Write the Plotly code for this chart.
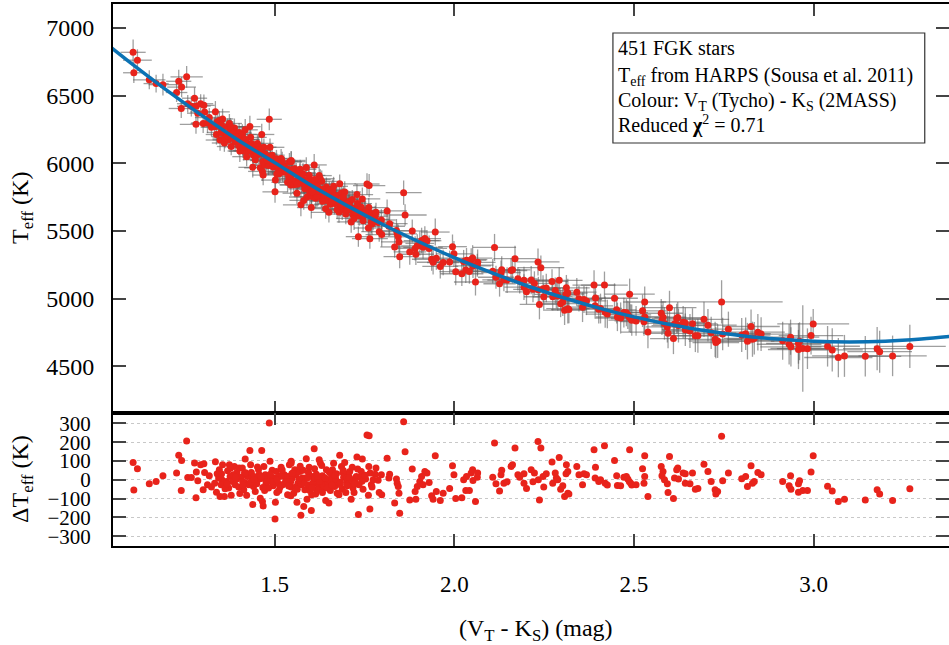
import plotly.graph_objects as go

# V_T - K_S colour (mag), Teff (K), residual Teff - fit (K)
vk = [
    1.106, 1.118, 1.108, 1.151, 1.170, 1.189, 1.227, 1.233, 1.241, 1.255,
    1.240, 1.258, 1.268, 1.277, 1.281, 1.286, 1.282, 1.294, 1.303, 1.305,
    1.301, 1.313, 1.324, 1.335, 1.333, 1.338, 1.340, 1.346, 1.348, 1.355,
    1.360, 1.363, 1.353, 1.369, 1.374, 1.376, 1.379, 1.383, 1.388, 1.390,
    1.395, 1.401, 1.406, 1.410, 1.414, 1.418, 1.420, 1.422, 1.424, 1.431,
    1.433, 1.437, 1.439, 1.441, 1.446, 1.453, 1.457, 1.460, 1.464, 1.466,
    1.468, 1.470, 1.472, 1.476, 1.481, 1.485, 1.487, 1.490, 1.493, 1.496,
    1.500, 1.502, 1.501, 1.505, 1.506, 1.509, 1.513, 1.518, 1.522, 1.527,
    1.531, 1.536, 1.541, 1.546, 1.545, 1.546,
    1.344, 1.351, 1.366, 1.372, 1.385, 1.394, 1.400, 1.411, 1.416, 1.428,
    1.435, 1.442, 1.450, 1.455, 1.463, 1.474, 1.478, 1.483, 1.489, 1.494,
    1.507, 1.515, 1.520, 1.528, 1.537,
    1.546, 1.556, 1.549, 1.553, 1.560, 1.565, 1.562, 1.570, 1.573, 1.577,
    1.581, 1.584, 1.588, 1.590, 1.593, 1.596, 1.599, 1.602, 1.603, 1.609,
    1.610, 1.614, 1.616, 1.621, 1.624, 1.627, 1.631, 1.630, 1.635, 1.638,
    1.642, 1.644, 1.649, 1.651, 1.655, 1.658, 1.662, 1.667, 1.672, 1.676,
    1.679, 1.681, 1.686, 1.688, 1.692, 1.695, 1.698, 1.701, 1.705, 1.709,
    1.713, 1.716, 1.718, 1.721, 1.727, 1.729, 1.733, 1.739, 1.744, 1.746,
    1.753, 1.757, 1.763, 1.762, 1.761, 1.765, 1.766, 1.769, 1.780, 1.791,
    1.798, 1.797, 1.813, 1.818, 1.820, 1.834, 1.839, 1.841, 1.844, 1.846,
    1.848, 1.859, 1.863, 1.876, 1.883, 1.891, 1.893, 1.897, 1.904, 1.909,
    1.913, 1.918, 1.924, 1.930, 1.937, 1.941, 1.947, 1.950, 1.961, 1.969,
    1.987, 1.995, 1.999, 2.004, 2.021, 2.026, 2.032, 2.034,
    1.545, 1.551, 1.559, 1.568, 1.574, 1.579, 1.586, 1.594, 1.598, 1.605,
    1.612, 1.618, 1.625, 1.633, 1.640, 1.646, 1.653, 1.661, 1.670, 1.674,
    1.683, 1.690, 1.700, 1.707, 1.714, 1.724, 1.735, 1.741, 1.750, 1.774,
    2.042, 2.047, 2.051, 2.052, 2.059, 2.064, 2.065, 2.107, 2.112, 2.116,
    2.126, 2.130, 2.132, 2.138, 2.147, 2.158, 2.162, 2.169, 2.177, 2.182,
    2.194, 2.194, 2.201, 2.214, 2.219, 2.223, 2.233, 2.234, 2.237, 2.241,
    2.247, 2.249, 2.256, 2.272, 2.274, 2.281, 2.284, 2.288, 2.292, 2.296,
    2.302, 2.307, 2.311, 2.312, 2.316, 2.316, 2.319, 2.341, 2.347, 2.357,
    2.361, 2.368, 2.389, 2.393, 2.392, 2.402, 2.407, 2.418, 2.420, 2.426,
    2.446, 2.452, 2.454, 2.463, 2.472, 2.479, 2.483, 2.488, 2.487, 2.491,
    2.494, 2.506, 2.524, 2.528, 2.530, 2.530, 2.539, 2.576, 2.581, 2.578,
    2.585, 2.593, 2.595, 2.599, 2.610, 2.613, 2.619, 2.622, 2.624, 2.637,
    2.643, 2.643, 2.656, 2.663, 2.671, 2.678, 2.695, 2.706,
    2.715, 2.726, 2.728, 2.733, 2.744, 2.747, 2.763, 2.800, 2.811, 2.816,
    2.826, 2.830, 2.835, 2.845, 2.854, 2.914, 2.932, 2.936, 2.937, 2.958,
    2.961, 2.958, 2.970, 2.983, 2.993, 2.999, 3.039, 3.052, 3.069, 3.086,
    3.144, 3.177, 3.184, 3.220, 3.268,
    1.318, 1.362, 1.377, 1.403, 1.419, 1.434, 1.452, 1.467, 1.488, 1.512,
    1.521, 1.533, 1.548, 1.563, 1.571, 1.583, 1.592, 1.604, 1.611, 1.619,
    1.633, 1.641, 1.652, 1.659, 1.668, 1.683, 1.691, 1.702, 1.708, 1.722,
    1.731, 1.743, 1.752, 1.771, 1.782, 1.788, 1.352, 1.368, 1.391, 1.412,
    1.443, 1.462, 1.479, 1.539, 1.664,
]

teff = [
    6820, 6762, 6669, 6617, 6589, 6581, 6523, 6606, 6563, 6639,
    6405, 6440, 6421, 6481, 6288, 6370, 6423, 6440, 6428, 6379,
    6294, 6298, 6266, 6380, 6270, 6213, 6307, 6317, 6172, 6328,
    6150, 6198, 6252, 6271, 6294, 6229, 6124, 6190, 6261, 6159,
    6216, 6228, 6172, 6213, 6091, 6247, 6116, 6049, 6145, 6271,
    6192, 6114, 5970, 6062, 6027, 6077, 6097, 5967, 6213, 5940,
    5913, 6119, 5988, 6020, 6048, 6325, 6118, 6006, 6060, 5973,
    6007, 5876, 5789, 6034, 5921, 5966, 5995, 6036, 5936, 5981,
    5948, 5860, 6011, 6021, 5840, 5884,
    6277, 6228, 6219, 6174, 6222, 6183, 6129, 6140, 6177, 6093,
    6147, 6114, 6061, 6126, 6067, 6068, 6035, 5983, 6035, 5999,
    5987, 5935, 5987, 5935, 5956,
    6012, 5960, 5927, 5841, 5928, 5875, 5779, 5929, 5693, 5884,
    5726, 5811, 5969, 5751, 5823, 5911, 5861, 5673, 5754, 5825,
    5988, 5742, 5844, 5779, 5909, 5886, 5867, 5749, 5785, 5749,
    5665, 5825, 5747, 5638, 5698, 5778, 5736, 5702, 5762, 5710,
    5640, 5848, 5780, 5656, 5715, 5788, 5625, 5679, 5714, 5720,
    5567, 5733, 5620, 5593, 5669, 5769, 5458, 5648, 5737, 5575,
    5619, 5847, 5835, 5673, 5522, 5443, 5633, 5566, 5607, 5495,
    5473, 5581, 5648, 5535, 5554, 5382, 5503, 5479, 5457, 5419,
    5310, 5783, 5618, 5345, 5500, 5371, 5328, 5390, 5408, 5429,
    5379, 5444, 5428, 5371, 5291, 5269, 5492, 5299, 5238, 5267,
    5270, 5384, 5331, 5199, 5184, 5275, 5211, 5284,
    5916, 5951, 5864, 5888, 5852, 5921, 5869, 5887, 5785, 5810,
    5829, 5758, 5791, 5809, 5787, 5725, 5758, 5799, 5737, 5656,
    5687, 5743, 5698, 5661, 5669, 5646, 5613, 5675, 5637, 5585,
    5200, 5288, 5300, 5242, 5123, 5247, 5268, 5202, 5378, 5158,
    5110, 5192, 5213, 5139, 5137, 5208, 5213, 5295, 5146, 5128,
    5135, 5085, 5050, 5137, 5069, 5112, 5271, 5066, 4957, 5229,
    5073, 5014, 5079, 5127, 5013, 5061, 5032, 5020, 5135, 4963,
    4976, 4915, 5033, 5080, 5041, 4926, 4919, 5048, 4999, 4937,
    4993, 4983, 5100, 5004, 4947, 4922, 4927, 5100, 4900, 4886,
    5003, 4917, 4865, 4857, 4897, 4896, 4880, 5033, 4864, 4853,
    4841, 4835, 4910, 4830, 4975, 4865, 4753, 4892, 4863, 4841,
    4817, 4791, 4744, 4933, 4705, 4812, 4853, 4860, 4801, 4826,
    4820, 4770, 4761, 4814, 4725, 4726, 4847, 4804,
    4747, 4699, 4675, 4687, 4976, 4739, 4774, 4731, 4741, 4686,
    4794, 4700, 4707, 4752, 4738, 4689, 4663, 4715, 4644, 4669,
    4685, 4624, 4632, 4630, 4727, 4813, 4648, 4621, 4565, 4577,
    4574, 4630, 4608, 4577, 4647,
    6338, 6187, 6270, 6090, 6174, 6098, 6147, 6012, 6047, 5922,
    6016, 5936, 5953, 5845, 5956, 5847, 5862, 5790, 5880, 5829,
    5720, 5784, 5801, 5720, 5759, 5701, 5751, 5654, 5690, 5636,
    5702, 5621, 5640, 5551, 5638, 5563, 6284, 6204, 6198, 6119,
    6096, 6078, 6022, 5902, 5830,
]

dteff = [
    92, 59, -55, -21, -9, 21, 36, 131, 103, 206,
    -57, 12, 12, 89, -96, -5, 41, 80, 85, 39,
    -53, -27, -39, 96, -18, -66, 32, 53, -89, 80,
    -89, -36, 0, 48, 80, 18, -82, -9, 71, -27,
    39, 62, 14, 62, -53, 110, -18, -82, 18, 156,
    80, 9, -131, -36, -62, 0, 27, -98, 155, -115,
    -139, 71, -57, -18, 18, 302, 98, -9, 50, -32,
    9, -119, -208, 44, -67, -18, 18, 67, -27, 27,
    0, -80, 80, 98, -85, -39,
    9, -27, -9, -44, 27, 4, -39, -9, 36, -27,
    39, 18, -21, 53, 7, 27, 0, -44, 18, -9,
    0, -39, 21, -18, 18,
    89, 53, 9, -71, 27, -18, -119, 44, -188, 9,
    -142, -53, 112, -103, -27, 66, 21, -163, -80, 0,
    165, -75, 30, -27, 107, 89, 76, -44, 0, -32,
    -110, 53, -18, -124, -57, 27, -9, -36, 32, -14,
    -80, 131, 71, -50, 14, 92, -67, -9, 32, 44,
    -103, 67, -44, -67, 18, 121, -185, 14, 110, -50,
    4, 238, 234, 71, -82, -155, 36, -27, 30, -67,
    -80, 27, 115, 9, 30, -124, 4, -18, -36, -71,
    -178, 309, 149, -107, 57, -62, -103, -36, -9, 18,
    -27, 44, 36, -14, -85, -103, 128, -62, -110, -71,
    -46, 75, 27, -99, -96, 0, -57, 18,
    -9, 36, -39, 0, -27, 50, 9, 39, -57, -21,
    9, -53, -9, 21, 9, -44, 0, 53, 4, -71,
    -27, 39, 9, -18, 0, -9, -27, 44, 18, 0,
    -57, 36, 53, -4, -115, 14, 36, 14, 195, -21,
    -59, 27, 50, -18, -11, 71, 80, 169, 27, 14,
    32, -18, -46, 53, -11, 36, 204, 0, -107, 169,
    18, -39, 32, 94, -18, 36, 9, 0, 119, -50,
    -32, -89, 32, 80, 44, -71, -75, 71, 27, -27,
    32, 27, 160, 67, 9, -9, 0, 181, -18, -28,
    103, 21, -30, -32, 14, 18, 4, 160, -9, -18,
    -28, -27, 59, -18, 128, 18, -89, 71, 44, 21,
    0, -21, -67, 124, -99, 9, 53, 62, 4, 36,
    32, -18, -21, 36, -50, -46, 83, 44,
    -9, -53, -76, -62, 231, -5, 36, 5, 18, -36,
    75, -18, -9, 39, 27, -9, -32, 21, -50, -21,
    -5, -66, -57, -57, 41, 128, -34, -60, -115, -103,
    -107, -53, -76, -110, -48,
    22, -48, 61, -73, 38, -12, 68, -41, 29, -57,
    52, -9, 33, -51, 72, -18, 11, -43, 58, 19,
    -68, 8, 41, -29, 23, -13, 49, -32, 12, -22,
    57, -8, 24, -39, 63, -3, 31, -21, 14, -28,
    2, 17, -11, -33, 88,
]

# error bars: colour in mmag, Teff in K
vk_err_mmag = [
    35, 40, 30, 45, 35, 40, 30, 35, 40, 45, 35, 30, 40, 35, 45, 30, 40, 35, 30, 40,
    35, 45, 30, 40, 35, 30, 45, 35, 40, 30, 35, 40, 30, 45, 35, 30, 40, 35, 45, 30,
    40, 35, 30, 40, 45, 35, 30, 40, 35, 30, 45, 35, 40, 30, 35, 40, 30, 45, 35, 40,
    30, 35, 40, 45, 30, 35, 40, 30, 35, 45, 30, 40, 35, 30, 40, 45, 35, 30, 40, 35,
    30, 45, 35, 40, 30, 35,
    35, 40, 30, 45, 35, 40, 30, 35, 40, 45, 35, 30, 40, 35, 45, 30, 40, 35, 30, 40,
    35, 45, 30, 40, 35,
    40, 35, 45, 40, 50, 35, 40, 45, 50, 35, 40, 45, 35, 50, 40, 45, 35, 40, 50, 45,
    35, 40, 45, 50, 35, 40, 45, 35, 50, 40, 45, 35, 40, 50, 45, 40, 35, 45, 50, 40,
    35, 45, 40, 50, 35, 45, 40, 35, 50, 45, 40, 35, 45, 50, 40, 45, 35, 40, 50, 45,
    40, 35, 45, 55, 40, 50, 45, 40, 35, 50, 45, 40, 55, 45, 50, 40, 45, 55, 40, 50,
    45, 50, 60, 45, 40, 55, 50, 45, 40, 50, 55, 45, 40, 50, 55, 45, 40, 60, 50, 45,
    55, 40, 50, 45, 60, 50, 45, 55,
    40, 45, 35, 50, 40, 45, 35, 40, 50, 45, 40, 35, 45, 50, 40, 45, 35, 40, 50, 45,
    40, 35, 45, 50, 40, 45, 35, 40, 50, 45,
    50, 45, 55, 50, 60, 45, 50, 55, 60, 50, 45, 55, 50, 60, 55, 45, 50, 60, 55, 50,
    45, 55, 60, 50, 55, 45, 60, 50, 55, 65, 50, 55, 60, 45, 55, 50, 60, 55, 65, 50,
    55, 60, 50, 65, 55, 60, 50, 55, 65, 60, 50, 55, 60, 65, 50, 55, 60, 65, 55, 60,
    65, 55, 60, 70, 55, 60, 65, 70, 60, 55, 65, 60, 70, 65, 60, 70, 75, 60, 65, 70,
    65, 60, 70, 75, 65, 60, 70, 65, 75, 60, 70, 65, 75, 70, 65, 75, 70, 80,
    70, 75, 65, 80, 170, 70, 75, 80, 70, 75, 80, 70, 85, 75, 80, 85, 90, 80, 85, 90,
    80, 85, 90, 85, 90, 100, 90, 85, 95, 90, 100, 95, 90, 95, 100,
    40, 35, 45, 30, 40, 35, 45, 30, 40, 35, 45, 35, 40, 30, 45, 35, 40, 30, 45, 40,
    35, 40, 45, 30, 40, 35, 45, 40, 35, 30, 40, 45, 35, 40, 30, 45, 35, 40, 30, 45,
    35, 40, 45, 30, 40,
]

teff_err = [
    95, 80, 75, 70, 65, 80, 70, 85, 75, 80, 70, 65, 75, 80, 70, 65, 75, 70, 80, 65,
    70, 75, 65, 80, 70, 75, 65, 70, 80, 75, 65, 70, 75, 60, 70, 75, 65, 80, 70, 75,
    65, 70, 60, 75, 70, 80, 65, 70, 75, 80, 70, 65, 75, 70, 60, 75, 70, 65, 80, 70,
    75, 65, 70, 75, 70, 80, 65, 70, 75, 60, 70, 75, 80, 65, 70, 75, 60, 70, 75, 65,
    70, 75, 65, 70, 80, 65,
    70, 65, 75, 70, 80, 65, 70, 75, 60, 70, 75, 65, 70, 80, 65, 70, 75, 70, 65, 80,
    70, 75, 65, 70, 75,
    75, 70, 80, 70, 75, 65, 80, 70, 85, 75, 70, 80, 75, 70, 85, 75, 70, 80, 75, 70,
    80, 75, 70, 85, 75, 70, 80, 75, 70, 85, 75, 70, 80, 75, 70, 85, 75, 80, 70, 75,
    80, 70, 85, 75, 70, 80, 75, 70, 85, 75, 80, 70, 75, 85, 70, 80, 75, 70, 85, 80,
    75, 80, 85, 70, 80, 75, 70, 85, 80, 75, 90, 80, 85, 75, 90, 80, 85, 75, 90, 80,
    85, 90, 80, 95, 85, 90, 80, 85, 90, 95, 85, 90, 80, 95, 85, 90, 100, 85, 90, 95,
    85, 90, 95, 100, 90, 85, 95, 90,
    75, 70, 80, 75, 70, 80, 75, 70, 85, 75, 70, 80, 75, 70, 85, 75, 70, 80, 75, 70,
    80, 75, 70, 85, 75, 80, 75, 70, 85, 80,
    90, 85, 95, 90, 100, 85, 95, 90, 100, 85, 95, 90, 100, 85, 95, 90, 100, 95, 85, 90,
    100, 95, 90, 105, 95, 90, 100, 95, 110, 90, 100, 95, 105, 90, 100, 95, 105, 110, 95, 100,
    105, 110, 100, 95, 105, 110, 100, 105, 95, 110, 100, 105, 110, 100, 95, 105, 110, 100, 115, 105,
    110, 100, 105, 115, 110, 100, 105, 115, 110, 105, 115, 110, 120, 105, 115, 110, 120, 105, 115, 110,
    120, 115, 110, 125, 115, 120, 110, 115, 125, 120, 115, 120, 125, 115, 120, 125, 130, 120,
    120, 130, 115, 125, 160, 120, 130, 125, 120, 135, 125, 130, 120, 135, 125, 140, 150, 130, 145, 150,
    140, 145, 320, 150, 140, 110, 150, 160, 145, 155, 150, 160, 155, 150, 160,
    70, 75, 65, 80, 70, 75, 65, 70, 80, 75, 70, 65, 75, 80, 70, 75, 65, 70, 80, 75,
    70, 75, 65, 80, 70, 75, 80, 70, 75, 65, 80, 70, 75, 85, 70, 75, 65, 70, 75, 80,
    70, 65, 75, 80, 70,
]

# fitted calibration curve
fit_vk = [1.0, 1.1, 1.2, 1.3, 1.4, 1.5, 1.6, 1.7, 1.8, 1.9, 2.0, 2.1, 2.2,
          2.3, 2.4, 2.5, 2.6, 2.7, 2.8, 2.9, 3.0, 3.1, 3.2, 3.3, 3.4]
fit_teff = [6951, 6740, 6539, 6349, 6168, 6005, 5839, 5689, 5550, 5422, 5303, 5195, 5097,
            5010, 4932, 4865, 4809, 4762, 4726, 4701, 4685, 4680, 4685, 4701, 4726]

teff_ticks = [4500, 5000, 5500, 6000, 6500, 7000]
dteff_ticks = [-300, -200, -100, 0, 100, 200, 300]
vk_ticks = [1.5, 2.0, 2.5, 3.0]
vk_ticktext = ['1.5', '2.0', '2.5', '3.0']

info_lines = [
    '451 FGK stars',
    'T<sub>eff</sub> from HARPS (Sousa et al. 2011)',
    'Colour: V<sub>T</sub> (Tycho) - K<sub>S</sub> (2MASS)',
    'Reduced <b>χ</b><sup>2</sup> = 0.71',
]

RED = '#e8231b'
BLUE = '#0b72b4'
ERR = 'rgba(95,95,95,0.6)'
FONT = 'Liberation Serif'

fig = go.Figure()

fig.add_trace(go.Scatter(
    x=vk, y=teff, mode='markers',
    marker=dict(color=RED, size=7, line=dict(width=0)),
    error_x=dict(type='data', array=[e / 1000 for e in vk_err_mmag], color=ERR, thickness=1.3, width=0),
    error_y=dict(type='data', array=teff_err, color=ERR, thickness=1.3, width=0),
    xaxis='x', yaxis='y', hoverinfo='x+y',
))
fig.add_trace(go.Scatter(
    x=fit_vk, y=fit_teff, mode='lines',
    line=dict(color=BLUE, width=3.5, shape='spline'),
    xaxis='x', yaxis='y', hoverinfo='skip',
))
fig.add_trace(go.Scatter(
    x=vk, y=dteff, mode='markers',
    marker=dict(color=RED, size=7, line=dict(width=0)),
    xaxis='x2', yaxis='y2', hoverinfo='x+y',
))

split = 0.2454

axis_common = dict(
    showline=True, linecolor='black', linewidth=2, mirror='ticks',
    ticks='inside', tickcolor='#444', tickwidth=1.5,
    zeroline=False, showgrid=False,
)

fig.update_layout(
    template='none',
    width=949, height=645,
    margin=dict(l=113, r=0, t=4, b=99),
    paper_bgcolor='white', plot_bgcolor='white',
    font=dict(family=FONT, size=22, color='black'),
    showlegend=False,
    xaxis=dict(domain=[0, 1], anchor='y', range=[1.05, 3.377],
               tickvals=vk_ticks, showticklabels=False, ticklen=12, **axis_common),
    yaxis=dict(domain=[split, 1], anchor='x', range=[4155, 7177],
               tickvals=teff_ticks, ticklen=13, ticklabelstandoff=12,
               tickfont=dict(family=FONT, size=24, color='black'), **axis_common),
    xaxis2=dict(domain=[0, 1], anchor='y2', range=[1.05, 3.377], matches='x',
                tickvals=vk_ticks, ticktext=vk_ticktext, ticklen=12,
                ticklabelstandoff=16,
                tickfont=dict(family=FONT, size=23, color='black'), **axis_common),
    yaxis2=dict(domain=[0, split], anchor='x2', range=[-352, 355],
                tickvals=dteff_ticks, ticklen=13, ticklabelstandoff=16,
                tickfont=dict(family=FONT, size=21, color='black'),
                **{**axis_common, 'showgrid': True},
                gridcolor='#c8c8c8', griddash='dot', gridwidth=1),
)

# axis titles
fig.add_annotation(text='T<sub>eff</sub> (K)', xref='paper', yref='paper',
                   x=-0.109, y=0.6236, textangle=-90, showarrow=False,
                   xanchor='center', yanchor='middle', font=dict(family=FONT, size=24))
fig.add_annotation(text='ΔT<sub>eff</sub> (K)', xref='paper', yref='paper',
                   x=-0.109, y=0.1236, textangle=-90, showarrow=False,
                   xanchor='center', yanchor='middle', font=dict(family=FONT, size=24))
fig.add_annotation(text='(V<sub>T</sub> - K<sub>S</sub>) (mag)', xref='paper', yref='paper',
                   x=0.5054, y=-0.155, showarrow=False,
                   xanchor='center', yanchor='middle', font=dict(family=FONT, size=24))

# info box
fig.add_shape(type='rect', xref='paper', yref='paper',
              x0=0.598, x1=0.971, y0=0.7435, y1=0.9465,
              line=dict(color='#333', width=1.2), fillcolor='white', layer='above')
for i, line in enumerate(info_lines):
    fig.add_annotation(text=line, xref='paper', yref='paper',
                       x=0.6017, y=[0.9188, 0.867, 0.821, 0.7768][i],
                       showarrow=False, xanchor='left', yanchor='middle',
                       font=dict(family=FONT, size=20))

# the page's default body margin would shift the figure by 8 px
fig.write_html('out.html', config={'displayModeBar': False},
               post_script="document.body.style.margin='0';")
